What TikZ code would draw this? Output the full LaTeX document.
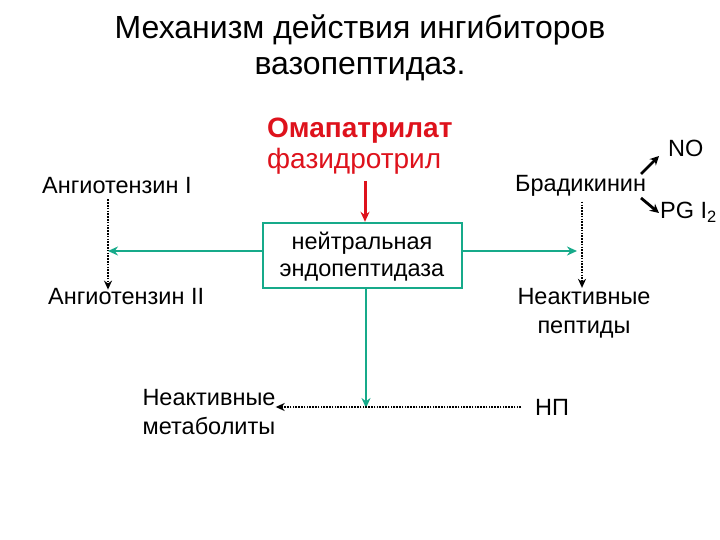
\documentclass[tikz,border=0pt]{standalone}
\usepackage{fontspec}
\setmainfont{Liberation Sans}
\usetikzlibrary{arrows.meta}
\definecolor{grn}{RGB}{22,170,138}
\definecolor{rd}{RGB}{222,18,28}
\tikzset{
  lbl/.style={inner sep=0pt, font=\fontsize{23.5}{29}\selectfont, align=center},
  dotarrow/.style={dash pattern=on 1.6pt off 1.2pt, line width=2pt, -{Stealth[length=9pt,width=8pt]}},
  grnarrow/.style={draw=grn, line width=2.4pt, -{Stealth[length=10pt,width=9pt]}},
  blkarrow/.style={line width=2.8pt, -{Stealth[length=9pt,width=9pt]}},
}
\begin{document}
\begin{tikzpicture}[x=1pt,y=-1pt]
\useasboundingbox (0,0) rectangle (720,540);
% title
\node[inner sep=0pt, font=\fontsize{32}{36}\selectfont, align=center] (title) at (360,48) {Механизм действия ингибиторов\\вазопептидаз.};
% left
\node[lbl, anchor=west] (a1) at (42,186) {Ангиотензин I};
\node[lbl, anchor=west] (a2) at (48,297) {Ангиотензин II};
\coordinate (lx) at (108,251);
% inhibitors
\node[inner sep=0pt, anchor=west, text=rd, font=\fontsize{28}{32}\selectfont\bfseries] (oma) at (267,131) {Омапатрилат};
\node[inner sep=0pt, anchor=west, text=rd, font=\fontsize{28}{32}\selectfont] (faz) at (267,161) {фазидротрил};
% box
\node[draw=grn, line width=2.4pt, minimum width=199pt, minimum height=65pt, inner sep=0pt] (nep) at (362.5,255.5) {};
\node[lbl, font=\fontsize{23.5}{27}\selectfont] (neptxt) at (362,257) {нейтральная\\эндопептидаза};
% right
\node[lbl, anchor=west] (brad) at (515,186) {Брадикинин};
\node[lbl, anchor=west] (no) at (668,148) {NO};
\node[lbl, anchor=west] (pg) at (660,212) {PG I\textsubscript{2}};
\node[lbl] (inpep) at (584,313) {Неактивные\\пептиды};
\coordinate (rx) at (577,251);
\coordinate (bx) at (582,251);
\coordinate (no0) at (641,174);
\coordinate (no1) at (659,156);
\coordinate (pg0) at (641,198);
\coordinate (pg1) at (659,213);
% bottom
\node[lbl] (inmet) at (209,412) {Неактивные\\метаболиты};
\node[lbl, anchor=west] (np) at (535,407) {НП};
\coordinate (mx) at (366,408);
% connectors
\draw[draw=rd, line width=3pt, -{Stealth[length=10pt,width=9pt]}] (365,181) coordinate (r0) -- (nep.north -| r0);
\draw[dotarrow] ([yshift=-5pt]a1.south -| lx) -- ([yshift=-1pt]a2.north -| lx);
\draw[grnarrow] (nep.west |- lx) -- (lx);
\draw[grnarrow] (nep.east |- rx) -- (rx);
\draw[dotarrow] ([yshift=-5pt]brad.south -| bx) -- (inpep.north -| bx);
\draw[grnarrow] (nep.south -| mx) -- (mx);
\draw[dotarrow] ([xshift=-14pt]np.west) -- (inmet.east |- np.west);
\draw[blkarrow] (no0) -- (no1);
\draw[blkarrow] (pg0) -- (pg1);
\end{tikzpicture}
\end{document}
